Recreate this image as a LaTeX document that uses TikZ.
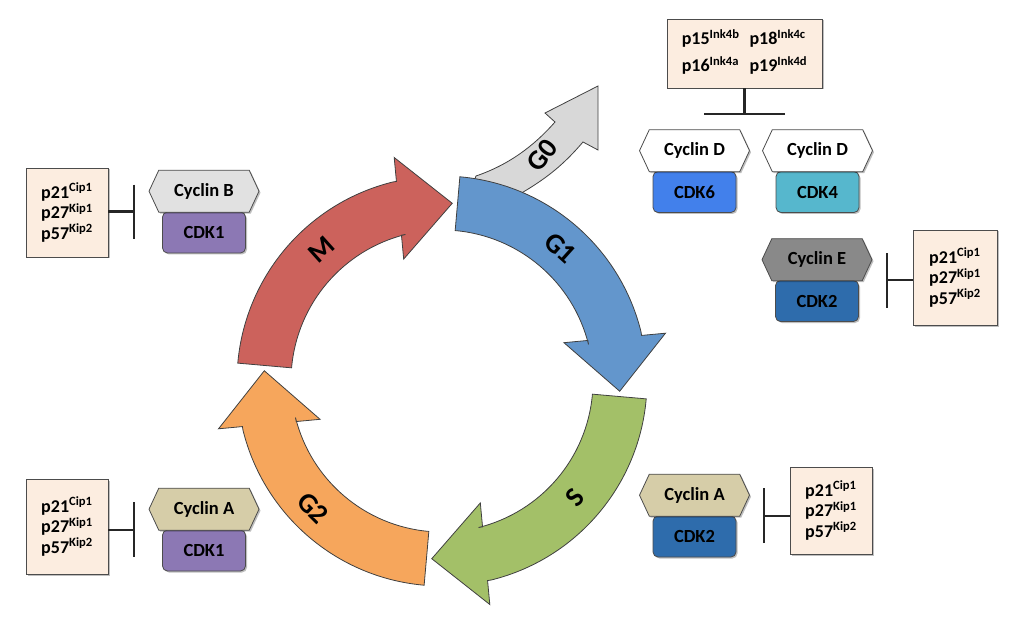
\documentclass[tikz,border=0pt]{standalone}
\usepackage{fontspec}
\setmainfont{Carlito}
\usetikzlibrary{positioning, calc, shapes.symbols, arrows.meta, shadows}

\definecolor{boxfill}{RGB}{252,237,224}
\definecolor{cycb}{RGB}{225,225,225}
\definecolor{cyce}{RGB}{137,137,137}
\definecolor{cyca}{RGB}{214,205,168}
\definecolor{cdkone}{RGB}{140,120,180}
\definecolor{cdktwo}{RGB}{46,108,172}
\definecolor{cdksix}{RGB}{66,128,235}
\definecolor{cdkfour}{RGB}{86,183,205}
\definecolor{mcol}{RGB}{204,98,92}
\definecolor{gonecol}{RGB}{99,150,204}
\definecolor{scol}{RGB}{163,192,104}
\definecolor{gtwocol}{RGB}{246,166,92}
\definecolor{gzerocol}{RGB}{216,216,216}

\tikzset{
    x=1pt, y=1pt, % one unit is one pixel of the reference
    boxshadow/.style={drop shadow={shadow xshift=1.5pt, shadow yshift=-1.5pt, opacity=0.25, fill=black}},
    inhbox/.style={draw=black!70, line width=0.8pt, fill=boxfill, minimum width=82, align=left,
        font=\bfseries\fontsize{18}{20.5}\selectfont, boxshadow}, % the inhibitor boxes
    cyclin/.style={signal, signal to=west and east, signal pointer angle=130, draw=black!70,
        line width=0.8pt, minimum width=110, minimum height=42, inner sep=2pt,
        font=\bfseries\fontsize{18.5}{20}\selectfont, boxshadow},
    cdk/.style={rounded corners=5pt, draw=black!70, line width=0.8pt, minimum width=83,
        minimum height=41, font=\bfseries\fontsize{18.5}{20}\selectfont, boxshadow},
    inhibit/.style={line width=2.2pt, draw=black!85, -{Bar[width=#1]}}, % T-bar
    phasearrow/.style={draw=black!75, line width=0.8pt},
    phaselabel/.style={font=\bfseries\fontsize{28}{30}\selectfont},
}

% #1 start angle, #2 fill colour
\newcommand{\cyclearrow}[2]{%
    \coordinate (hb) at ($(ctr)+(#1-71:178)$);
    \coordinate (ht) at ($(ctr)+(#1-88.3:178)$);
    \draw[phasearrow, fill=#2] ($(ctr)+(#1:205)$) arc[start angle=#1, end angle=#1-71, radius=205]
        -- ($(hb)!27pt!90:(ht)$) -- ($(hb)!51pt!90:(ht)$) -- (ht)
        -- ($(hb)!51pt!-90:(ht)$) -- ($(hb)!27pt!-90:(ht)$)
        -- ($(ctr)+(#1-71:151)$) arc[start angle=#1-71, end angle=#1, radius=151] -- cycle;
}

\begin{document}
\begin{tikzpicture}
    \useasboundingbox (0,0) rectangle (1023,625);
    \coordinate (ctr) at (442,244);

    % the cycle
    \draw[phasearrow, fill=gzerocol] (476,449) .. controls (508,460) and (533,478) .. (555,503)
        -- (545,512) -- (598,539) -- (598,475) -- (583,483)
        .. controls (565,462) and (548,447) .. (518,430) -- (470,432) -- cycle;
    \cyclearrow{175}{mcol}
    \cyclearrow{265}{gtwocol}
    \cyclearrow{-5}{scol}
    \cyclearrow{85}{gonecol}
    \node[phaselabel, rotate=52] (g0lab) at (542,470) {G0};
    \node[phaselabel, rotate=42] (mlab) at (322,375) {M};
    \node[phaselabel, rotate=-42] (g1lab) at (560,377) {G1};
    \node[phaselabel, rotate=49] (slab) at (575,127) {S};
    \node[phaselabel, rotate=-45] (g2lab) at (313,117) {G2};

    % G1: cyclin D with CDK6 and CDK4
    \node[inhbox, minimum width=155, minimum height=69] (ink) at (744.5,571.5)
        {\begin{tabular}{@{}l@{\hspace{10pt}}l@{}}
        p15\textsuperscript{Ink4b} & p18\textsuperscript{Ink4c}\\[6pt]
        p16\textsuperscript{Ink4a} & p19\textsuperscript{Ink4d}
        \end{tabular}};
    \node[cdk, fill=cdksix] (cdk6) at (694.5,433) {CDK6};
    \node[cyclin, fill=white, above=-1pt of cdk6] (cycd6) {Cyclin D};
    \node[cdk, fill=cdkfour] (cdk4) at (817.5,433) {CDK4};
    \node[cyclin, fill=white, above=-1pt of cdk4] (cycd4) {Cyclin D};
    \coordinate (barink) at ($(ink.south)+(0,-27)$);
    \draw[inhibit=81pt] (ink.south) -- (barink);

    % G1/S: cyclin E with CDK2
    \node[cdk, fill=cdktwo] (cdk2e) at (817,324) {CDK2};
    \node[cyclin, fill=cyce, above=-1pt of cdk2e] (cyce) {Cyclin E};
    \node[inhbox, minimum width=84, minimum height=95] (inhe) at (955,347.5)
        {p21\textsuperscript{Cip1}\\p27\textsuperscript{Kip1}\\p57\textsuperscript{Kip2}};
    \coordinate (bare) at ($(inhe.west |- cdk2e.north)+(-27,0)$);
    \draw[inhibit=55pt] (inhe.west |- cdk2e.north) -- (bare);

    % S: cyclin A with CDK2
    \node[cdk, fill=cdktwo] (cdk2a) at (694.5,88.5) {CDK2};
    \node[cyclin, fill=cyca, above=-1pt of cdk2a] (cyca2) {Cyclin A};
    \node[inhbox, minimum height=87] (inha) at (831,114.5)
        {p21\textsuperscript{Cip1}\\p27\textsuperscript{Kip1}\\p57\textsuperscript{Kip2}};
    \coordinate (bara) at ($(inha.west |- cdk2a.north)+(-27,0)$);
    \draw[inhibit=55pt] (inha.west |- cdk2a.north) -- (bara);

    % G2: cyclin A with CDK1
    \node[cdk, fill=cdkone] (cdk1a) at (204,74.5) {CDK1};
    \node[cyclin, fill=cyca, above=-1pt of cdk1a] (cyca1) {Cyclin A};
    \node[inhbox, minimum height=95] (inhg) at (67,98.5)
        {p21\textsuperscript{Cip1}\\p27\textsuperscript{Kip1}\\p57\textsuperscript{Kip2}};
    \coordinate (barg) at ($(inhg.east |- cdk1a.north)+(27,0)$);
    \draw[inhibit=55pt] (inhg.east |- cdk1a.north) -- (barg);

    % M: cyclin B with CDK1
    \node[cdk, fill=cdkone] (cdk1b) at (204,392.5) {CDK1};
    \node[cyclin, fill=cycb, above=-1pt of cdk1b] (cycb) {Cyclin B};
    \node[inhbox, minimum height=89] (inhm) at (67,412.5)
        {p21\textsuperscript{Cip1}\\p27\textsuperscript{Kip1}\\p57\textsuperscript{Kip2}};
    \coordinate (barm) at ($(inhm.east |- cdk1b.north)+(27,0)$);
    \draw[inhibit=54pt] (inhm.east |- cdk1b.north) -- (barm);
\end{tikzpicture}
\end{document}
